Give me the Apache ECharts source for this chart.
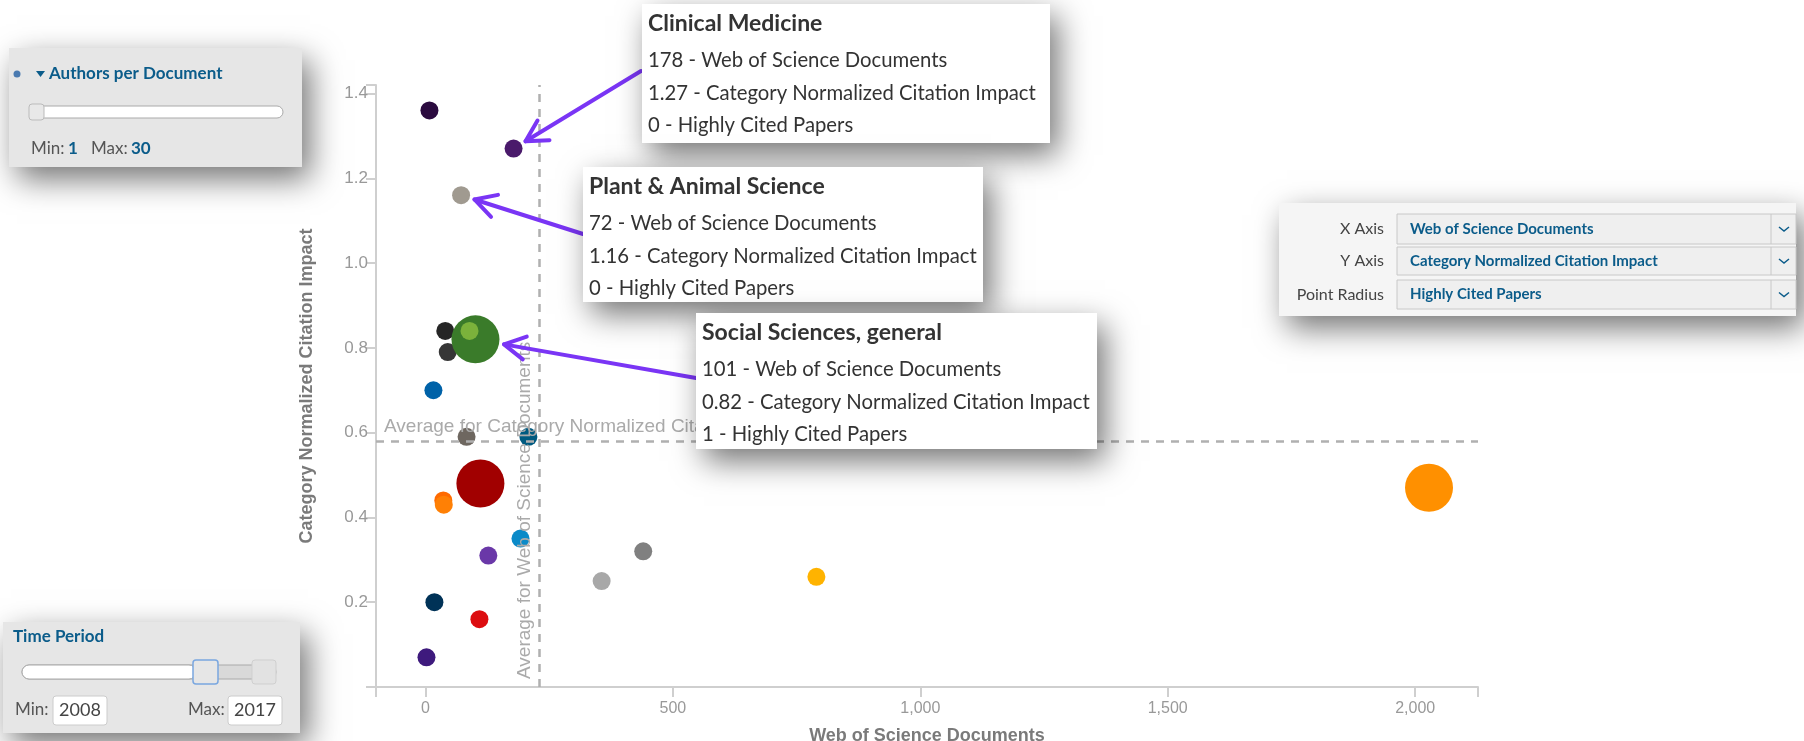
<!DOCTYPE html>
<html>
<head>
<meta charset="utf-8">
<script src="https://cdn.jsdelivr.net/npm/echarts@6/dist/echarts.min.js"></script>
<style>
  html,body{margin:0;padding:0;background:#fff;}
  #chart{width:1804px;height:741px;}
</style>
</head>
<body>
<div id="chart"></div>
<script>
// research fields (only the three with callouts are named in the picture)
const fields = ["", "Clinical Medicine", "Plant & Animal Science", "", "", "Social Sciences, general", "", "", "", "",
  "", "", "", "", "", "", "", "", "", "", "", ""];
const wosDocs = [8, 178, 72, 40, 45, 101, 89, 16, 83, 208, 111, 36, 37, 192, 127, 18, 109, 2, 356, 440, 790, 2028];
const cnci    = [1.36, 1.27, 1.16, 0.84, 0.79, 0.82, 0.84, 0.70, 0.59, 0.59, 0.48, 0.44, 0.43, 0.35, 0.31, 0.20, 0.16, 0.07, 0.25, 0.32, 0.26, 0.47];
const hcp     = [0, 0, 0, 0, 0, 1, 0, 0, 0, 0, 1, 0, 0, 0, 0, 0, 0, 0, 0, 0, 0, 1];
const palette = ["#2b0b3f", "#4a1a6b", "#a09a90", "#262626", "#363636", "#3a7b2a", "#8cc040", "#0062a8", "#6e6760", "#005a80",
  "#a10000", "#ff6a00", "#ff8005", "#0a8ac8", "#6a38a8", "#003257", "#dc0d10", "#3e1a7d", "#a8a8a8", "#808080", "#ffb300", "#ff9000"];

const avgDocs = 230;
const avgCnci = 0.58;
const xTicks = [0, 500, 1000, 1500, 2000];
const yTicks = [0.2, 0.4, 0.6, 0.8, 1.0, 1.2, 1.4];
const xMin = -100, xMax = 2127, yMin = 0, yMax = 1.42;

// callouts: [point index, box x, box y, box w, box h, arrow tail]
const callouts = [
  [1, 642, 4, 408, 139, [641, 71]],
  [2, 583, 167, 400, 135, [583, 234]],
  [5, 696, 313, 401, 136, [696, 378]]
];

const BLUE = "#0b5c8a";
const ARROW = "#7a35f5";
const UI = "Lato, 'Open Sans', sans-serif";
const AX = "'Liberation Sans', Arial, sans-serif";
const radius = v => v ? 24 : 9;

const chart = echarts.init(document.getElementById("chart"));

const data = wosDocs.map((x, i) => ({
  name: fields[i], value: [x, cnci[i], hcp[i]],
  itemStyle: {color: palette[i], opacity: i === 6 ? 0.8 : 1}
}));

chart.setOption({
  animation:false,
  backgroundColor:"#fff",
  grid:{left:376,right:326,top:85,bottom:54,outerBoundsMode:"none",containLabel:false},
  xAxis:{type:"value",min:xMin,max:xMax,
    name:"Web of Science Documents",nameLocation:"middle",nameGap:40,
    nameTextStyle:{color:"#7a7a7a",fontSize:18,fontWeight:"bold",fontFamily:AX},
    axisLine:{onZero:false,lineStyle:{color:"#cfcfcf",width:2}},
    axisTick:{length:10,lineStyle:{color:"#cfcfcf",width:2},customValues:[xMin, ...xTicks, xMax]},
    axisLabel:{customValues:xTicks,color:"#999",fontSize:16,fontFamily:AX,margin:14,formatter:v => v.toLocaleString("en-US")},
    splitLine:{show:false}},
  yAxis:{type:"value",min:yMin,max:yMax,
    name:"Category Normalized Citation Impact",nameLocation:"middle",nameGap:60,
    nameTextStyle:{color:"#7a7a7a",fontSize:18,fontWeight:"bold",fontFamily:AX},
    axisLine:{show:true,onZero:false,lineStyle:{color:"#cfcfcf",width:2}},
    axisTick:{show:true,length:10,lineStyle:{color:"#cfcfcf",width:2},customValues:[yMin, ...yTicks, yMax]},
    axisLabel:{customValues:yTicks,color:"#999",fontSize:17,fontFamily:AX,margin:8,formatter:v => v.toFixed(1)},
    splitLine:{show:false}},
  series:[{
    type:"scatter",
    symbolSize:(v) => radius(v[2]) * 2,
    data:data,
    markLine:{silent:true,symbol:"none",animation:false,
      lineStyle:{color:"#b0b0b0",width:2.5,type:[8,7]},
      label:{color:"#aaa",fontSize:19,fontFamily:AX,position:"insideStartTop",distance:[8,5]},
      data:[
        {xAxis:avgDocs,label:{formatter:"Average for Web of Science Documents"}},
        {yAxis:avgCnci,label:{formatter:"Average for Category Normalized Citation Impact"}}
      ]}
  }]
});

// ---- overlays: panels, callout boxes, arrows ----
const shadow = {shadowBlur:30,shadowOffsetX:8,shadowOffsetY:12,shadowColor:"rgba(0,0,0,0.55)"};
const g = [];
const txt = (text, x, y, font, fill, align) => ({type:"text",z:120,
  style:{text,x,y,font,fill,align:align || "left",verticalAlign:"middle"}});
const box = (x, y, w, h, style, r) => ({type:"rect",z:110,shape:{x,y,width:w,height:h,r:r || 0},style});

// Authors per Document panel
g.push(box(9, 48, 293, 119, Object.assign({fill:"#e6e6e6"}, shadow)));
g.push({type:"circle",z:120,shape:{cx:17,cy:74,r:3.5},style:{fill:"#4a7ab0"}});
g.push({type:"polygon",z:120,shape:{points:[[36,71],[45,71],[40.5,77]]},style:{fill:BLUE}});
g.push(txt("Authors per Document", 49, 74, "bold 17px " + UI, BLUE));
g.push(box(30, 106, 253, 12, {fill:"#fff",stroke:"#aaa",lineWidth:1}, 6));
g.push(box(29, 104, 15, 16, {fill:"#e8e8e8",stroke:"#bbb",lineWidth:1}, 3));
g.push(txt("Min:", 31, 149, "17px " + UI, "#555"));
g.push(txt("1", 68, 149, "bold 17px " + UI, BLUE));
g.push(txt("Max:", 91, 149, "17px " + UI, "#555"));
g.push(txt("30", 131, 149, "bold 17px " + UI, BLUE));

// Time Period panel
g.push(box(3, 622, 297, 111, Object.assign({fill:"#e6e6e6"}, shadow)));
g.push(txt("Time Period", 13, 637, "bold 17px " + UI, BLUE));
g.push(box(22, 665, 254, 14, {fill:"#d9d9d9",stroke:"#aaa",lineWidth:1}, 7));
g.push(box(22, 665, 174, 14, {fill:"#fff",stroke:"#aaa",lineWidth:1}, 7));
g.push(box(193, 660, 25, 24, {fill:"#e6e6e6",stroke:"#7aa7e0",lineWidth:1.5}, 3));
g.push(box(252, 660, 24, 24, {fill:"#e2e2e2",stroke:"#cfcfcf",lineWidth:1}, 3));
g.push(txt("Min:", 15, 710, "17px " + UI, "#555"));
g.push(box(53, 696, 54, 29, {fill:"#fff",stroke:"#ccc",lineWidth:1}, 3));
g.push(txt("2008", 80, 710, "18px " + UI, "#444", "center"));
g.push(txt("Max:", 188, 710, "17px " + UI, "#555"));
g.push(box(228, 696, 54, 29, {fill:"#fff",stroke:"#ccc",lineWidth:1}, 3));
g.push(txt("2017", 255, 710, "18px " + UI, "#444", "center"));

// axis selector panel
g.push(box(1279, 203, 517, 113, Object.assign({fill:"#f5f5f5"}, shadow)));
[["X Axis", "Web of Science Documents", 214, 30],
 ["Y Axis", "Category Normalized Citation Impact", 247, 28],
 ["Point Radius", "Highly Cited Papers", 280, 29]].forEach(([lab, val, y, h]) => {
  const cy = y + h / 2;
  g.push(txt(lab, 1384, cy, "16px " + UI, "#444", "right"));
  g.push(box(1397, y, 399, h, {fill:"#efefef",stroke:"#c8c8c8",lineWidth:1}));
  g.push({type:"line",z:120,shape:{x1:1771,y1:y,x2:1771,y2:y + h},style:{stroke:"#c8c8c8",lineWidth:1}});
  g.push({type:"polyline",z:120,shape:{points:[[1779,cy - 2],[1784,cy + 2],[1789,cy - 2]]},style:{stroke:BLUE,lineWidth:1.5,fill:null}});
  g.push(txt(val, 1410, cy, "bold 15px " + UI, BLUE));
});

// callout boxes and arrows
callouts.forEach(([i, bx, by, bw, bh, tail]) => {
  g.push(box(bx, by, bw, bh, Object.assign({fill:"#fff"}, shadow)));
  const tx = bx + 6;
  g.push(txt(fields[i], tx, by + 20, "bold 23px " + UI, "#333"));
  g.push(txt(wosDocs[i] + " - Web of Science Documents", tx, by + 56, "20.3px " + UI, "#333"));
  g.push(txt(cnci[i].toFixed(2) + " - Category Normalized Citation Impact", tx, by + 89, "20.3px " + UI, "#333"));
  g.push(txt(hcp[i] + " - Highly Cited Papers", tx, by + 121, "20.3px " + UI, "#333"));

  const p = chart.convertToPixel({seriesIndex:0}, [wosDocs[i], cnci[i]]);
  const dx = tail[0] - p[0], dy = tail[1] - p[1], len = Math.hypot(dx, dy);
  const ux = dx / len, uy = dy / len, off = radius(hcp[i]) + 5;
  const tip = [p[0] + ux * off, p[1] + uy * off];
  const arm = (a) => [tip[0] + 24 * (ux * Math.cos(a) - uy * Math.sin(a)), tip[1] + 24 * (ux * Math.sin(a) + uy * Math.cos(a))];
  g.push({type:"line",z:105,shape:{x1:tip[0],y1:tip[1],x2:tail[0],y2:tail[1]},style:{stroke:ARROW,lineWidth:4,lineCap:"round"}});
  g.push({type:"polyline",z:105,shape:{points:[arm(0.5), tip, arm(-0.5)]},style:{stroke:ARROW,lineWidth:4,lineCap:"round",lineJoin:"round",fill:null}});
});

chart.setOption({graphic:{elements:g}});
</script>
</body>
</html>
